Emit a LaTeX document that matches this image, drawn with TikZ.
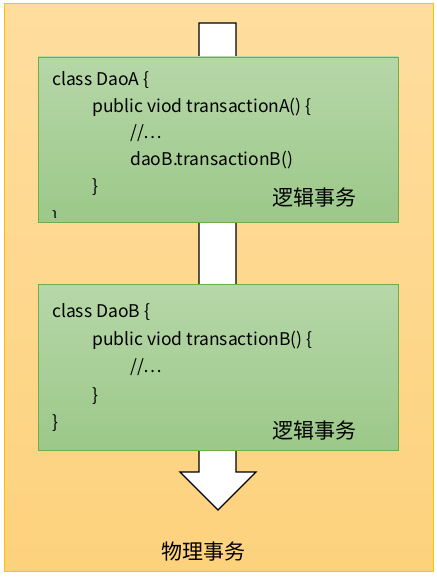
\documentclass[tikz,border=0pt]{standalone}
\usepackage{fontspec}
\setmainfont{Noto Sans CJK SC}
\usepackage{tikz}
\definecolor{framebd}{HTML}{FFC000}
\definecolor{frametop}{HTML}{FEDD9E}
\definecolor{framebot}{HTML}{FDD27D}
\definecolor{boxbd}{HTML}{70AD47}
\definecolor{boxtop}{HTML}{B6D7A8}
\definecolor{boxbot}{HTML}{9CC889}
\tikzstyle{frame}=[draw=framebd,line width=1pt,top color=frametop,bottom color=framebot,minimum width=429pt,minimum height=567pt,inner sep=0pt]
\tikzstyle{txbox}=[draw=boxbd,line width=0.8pt,top color=boxtop,bottom color=boxbot,minimum width=360pt,inner sep=0pt]
\tikzstyle{code}=[anchor=west,inner sep=0pt,font=\fontsize{17.5}{20}\selectfont]
\tikzstyle{label}=[anchor=center,inner sep=0pt,font=\fontsize{21}{24}\selectfont]

\begin{document}
\begin{tikzpicture}[x=1pt,y=-1pt]
\useasboundingbox (0,0) rectangle (436,580);
\node[frame] (phys) at (218.5,287.5) {};
% the flow arrow
\draw[line width=1.2pt,fill=white,line join=miter]
  (199,23) -- (236,23) -- (236,472) -- (256,472) -- (218,510) -- (180,472) -- (199,472) -- cycle;
\node[txbox,minimum height=165pt] (daoa) at (218,139.5) {};
\node[txbox,minimum height=166pt] (daob) at (218,367) {};
% DaoA
\node[code] (a1) at (52,80) {class DaoA \{};
\node[code] (a2) at (92,107) {public viod transactionA() \{};
\node[code] (a3) at (130,133) {//…};
\node[code] (a4) at (130,160) {daoB.transactionB()};
\node[code] (a5) at (92,187) {\}};
\begin{scope}
\clip (daoa.north west) rectangle (398,217);
\node[code] (a6) at (52,219) {\}};
\end{scope}
\node[label] (la) at (314.5,198) {逻辑事务};
% DaoB
\node[code] (b1) at (52,312) {class DaoB \{};
\node[code] (b2) at (92,340) {public viod transactionB() \{};
\node[code] (b3) at (130,367) {//…};
\node[code] (b4) at (92,396) {\}};
\node[code] (b5) at (52,423) {\}};
\node[label] (lb) at (314.5,431) {逻辑事务};
\node[label] (lp) at (203,552) {物理事务};
\end{tikzpicture}
\end{document}
